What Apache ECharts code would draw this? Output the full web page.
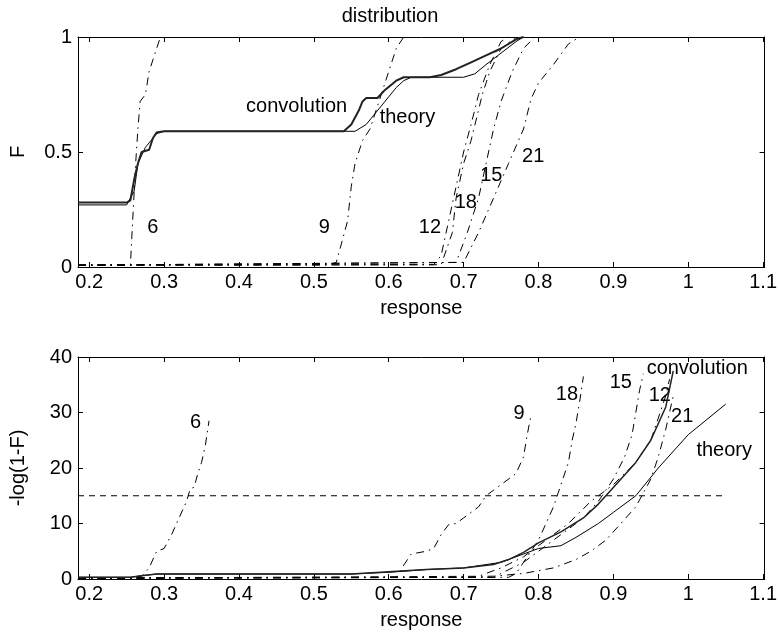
<!DOCTYPE html>
<html>
<head>
<meta charset="utf-8">
<script src="https://cdn.jsdelivr.net/npm/echarts@6/dist/echarts.min.js"></script>
<style>
  html, body { margin: 0; padding: 0; background: #fff; }
  #main { width: 780px; height: 639px; }
</style>
</head>
<body>
<div id="main"></div>
<script>
// tick labels shared by both panels
var xTicks = [0.2, 0.3, 0.4, 0.5, 0.6, 0.7, 0.8, 0.9, 1, 1.1];
var topYTicks = [0, 0.5, 1];
var botYTicks = [0, 10, 20, 30, 40];

// upper panel: F against response
var topConv = [[0.185,0.28],[0.25,0.28],[0.255,0.29],[0.26,0.38],[0.265,0.45],[0.27,0.5],[0.28,0.51],[0.285,0.56],[0.29,0.585],[0.3,0.59],[0.54,0.59],[0.55,0.62],[0.56,0.68],[0.565,0.72],[0.57,0.735],[0.585,0.735],[0.595,0.77],[0.61,0.81],[0.62,0.825],[0.655,0.825],[0.67,0.835],[0.69,0.86],[0.71,0.89],[0.73,0.92],[0.75,0.95],[0.77,0.99],[0.78,1.0]];
var topTheory = [[0.185,0.27],[0.25,0.27],[0.26,0.33],[0.265,0.45],[0.275,0.52],[0.29,0.58],[0.3,0.59],[0.555,0.59],[0.57,0.62],[0.58,0.66],[0.59,0.7],[0.6,0.74],[0.61,0.78],[0.62,0.81],[0.63,0.825],[0.7,0.825],[0.715,0.84],[0.73,0.88],[0.75,0.93],[0.77,0.98],[0.78,1.0]];
var top6 = [[0.185,0.008],[0.255,0.01],[0.258,0.2],[0.262,0.45],[0.265,0.6],[0.268,0.72],[0.275,0.75],[0.28,0.85],[0.29,0.95],[0.295,1.0]];
var top9 = [[0.185,0.008],[0.52,0.01],[0.53,0.02],[0.545,0.2],[0.55,0.35],[0.555,0.45],[0.565,0.55],[0.575,0.6],[0.585,0.7],[0.6,0.85],[0.61,0.95],[0.62,1.0]];
var top12 = [[0.185,0.008],[0.66,0.01],[0.67,0.05],[0.68,0.2],[0.69,0.35],[0.7,0.5],[0.71,0.62],[0.72,0.75],[0.735,0.88],[0.75,0.98],[0.76,1.0]];
var top18 = [[0.185,0.008],[0.67,0.01],[0.685,0.15],[0.69,0.3],[0.7,0.45],[0.71,0.55],[0.725,0.75],[0.735,0.85],[0.75,0.95],[0.77,1.0]];
var top15 = [[0.185,0.008],[0.69,0.02],[0.705,0.15],[0.72,0.3],[0.73,0.45],[0.74,0.6],[0.75,0.72],[0.765,0.85],[0.78,0.95],[0.795,1.0]];
var top21 = [[0.185,0.008],[0.7,0.02],[0.72,0.15],[0.74,0.3],[0.76,0.45],[0.78,0.6],[0.79,0.73],[0.8,0.8],[0.82,0.88],[0.84,0.97],[0.85,0.99]];
var topNotes = [['convolution',0.477,0.70],['theory',0.625,0.65],['6',0.285,0.17],['9',0.514,0.17],['12',0.655,0.17],['18',0.703,0.28],['15',0.737,0.40],['21',0.793,0.48]];

// lower panel: -log(1-F) against response
var botLevel = [[0.185,15],[1.05,15]];
var botConv = [[0.185,0.3],[0.255,0.3],[0.27,0.6],[0.29,0.9],[0.55,0.9],[0.6,1.3],[0.65,1.7],[0.7,2.0],[0.74,2.6],[0.76,3.5],[0.78,4.8],[0.8,6.5],[0.83,8.5],[0.86,11],[0.88,13.5],[0.9,16.5],[0.93,21],[0.95,25],[0.97,31],[0.98,37.5]];
var botTheory = [[0.185,0.3],[0.255,0.3],[0.27,0.6],[0.29,0.9],[0.55,0.9],[0.6,1.2],[0.65,1.7],[0.7,2.0],[0.75,3.0],[0.78,4.5],[0.8,5.5],[0.83,6.0],[0.85,7.5],[0.88,10],[0.9,12],[0.93,15],[0.96,20],[1.0,26],[1.05,31.5]];
var bot6 = [[0.185,0.15],[0.255,0.15],[0.27,0.5],[0.28,2],[0.29,5],[0.3,5.5],[0.31,8],[0.32,11],[0.33,14],[0.335,16.3],[0.34,16.5],[0.345,19],[0.35,21],[0.355,24],[0.36,28.5]];
var bot9 = [[0.185,0.15],[0.61,0.3],[0.62,2.5],[0.63,4.5],[0.65,5],[0.66,5.5],[0.67,8],[0.68,9.8],[0.69,10],[0.7,11],[0.72,13],[0.73,15],[0.74,16],[0.75,17],[0.77,19],[0.78,22],[0.785,26],[0.79,29.5]];
var bot18 = [[0.185,0.15],[0.76,0.3],[0.77,1],[0.78,3],[0.79,5],[0.8,7],[0.81,10],[0.82,13],[0.83,17],[0.84,21],[0.845,25],[0.85,28],[0.855,32],[0.86,36.5]];
var bot15 = [[0.185,0.15],[0.74,0.3],[0.75,1],[0.78,3],[0.81,6],[0.84,9],[0.86,11],[0.88,14],[0.9,18],[0.915,22],[0.925,26],[0.93,30],[0.935,34],[0.94,37]];
var bot12 = [[0.185,0.15],[0.71,0.3],[0.72,0.5],[0.75,2],[0.78,4],[0.81,7],[0.84,10],[0.87,14],[0.9,17],[0.93,21],[0.95,25],[0.96,29],[0.97,33],[0.975,36]];
var bot21 = [[0.185,0.15],[0.74,0.5],[0.78,1],[0.82,2],[0.85,3.5],[0.87,5],[0.89,7],[0.91,10],[0.93,13],[0.95,18],[0.96,22],[0.97,27],[0.975,30],[0.98,33]];
var botNotes = [['6',0.342,28.2],['9',0.774,29.9],['18',0.838,33.3],['15',0.91,35.4],['12',0.962,33],['21',0.992,29.3],['convolution',1.012,38],['theory',1.048,23.2]];

var FONT = 'Liberation Sans, Arial, sans-serif';
var FS = 20;
var dashDot = [8, 5, 1.5, 5];

function xAx(gi, pos, show) {
    return {
        type: 'value', gridIndex: gi, position: pos, min: 0.185, max: 1.102,
        name: show ? 'response' : '', nameLocation: 'middle', nameGap: 31,
        nameTextStyle: { color: '#000', fontFamily: FONT, fontSize: FS },
        axisLine: { show: true, onZero: false, lineStyle: { color: '#000', width: 1 } },
        axisTick: { show: true, inside: true, length: 5, customValues: xTicks, lineStyle: { color: '#000' } },
        axisLabel: { show: show, customValues: xTicks, color: '#000', fontFamily: FONT, fontSize: FS, margin: 5 },
        splitLine: { show: false }
    };
}
function yAx(gi, pos, show, ticks, max, name) {
    return {
        type: 'value', gridIndex: gi, position: pos, min: 0, max: max,
        name: show ? name : '', nameLocation: 'middle', nameGap: 50, nameRotate: 90,
        nameTextStyle: { color: '#000', fontFamily: FONT, fontSize: FS },
        axisLine: { show: true, onZero: false, lineStyle: { color: '#000', width: 1 } },
        axisTick: { show: true, inside: true, length: 5, customValues: ticks, lineStyle: { color: '#000' } },
        axisLabel: { show: show, customValues: ticks, color: '#000', fontFamily: FONT, fontSize: FS, margin: 6 },
        splitLine: { show: false }
    };
}
function curve(data, xi, type, width, color) {
    return {
        type: 'line', xAxisIndex: xi, yAxisIndex: xi, data: data, showSymbol: false,
        lineStyle: { color: color || '#000', width: width, type: type }, silent: true
    };
}
function notes(list, xi) {
    return {
        type: 'scatter', xAxisIndex: xi, yAxisIndex: xi, symbolSize: 0, silent: true,
        data: list.map(function (n) { return { name: n[0], value: [n[1], n[2]] }; }),
        label: { show: true, position: 'inside', formatter: '{b}', color: '#000', opacity: 1,
                 textBorderWidth: 0, fontFamily: FONT, fontSize: FS }
    };
}

var chart = echarts.init(document.getElementById('main'), null, { renderer: 'canvas' });
chart.setOption({
    animation: false,
    backgroundColor: '#fff',
    title: {
        text: 'distribution', left: 'center', top: 1,
        textStyle: { color: '#000', fontFamily: FONT, fontSize: FS, fontWeight: 'normal' }
    },
    grid: [
        { left: 74, right: 12, top: 37, height: 230 },
        { left: 74, right: 12, top: 357, height: 222 }
    ],
    xAxis: [xAx(0, 'bottom', true), xAx(1, 'bottom', true), xAx(0, 'top', false), xAx(1, 'top', false)],
    yAxis: [yAx(0, 'left', true, topYTicks, 1, 'F'), yAx(1, 'left', true, botYTicks, 40, '-log(1-F)'),
            yAx(0, 'right', false, topYTicks, 1, ''), yAx(1, 'right', false, botYTicks, 40, '')],
    series: [
        curve(top6, 0, dashDot, 1), curve(top9, 0, dashDot, 1), curve(top12, 0, dashDot, 1),
        curve(top18, 0, dashDot, 1), curve(top15, 0, dashDot, 1), curve(top21, 0, dashDot, 1),
        curve(topTheory, 0, 'solid', 1), curve(topConv, 0, 'solid', 2, '#222'),
        notes(topNotes, 0),
        curve(botLevel, 1, [6, 5], 1),
        curve(bot6, 1, dashDot, 1), curve(bot9, 1, dashDot, 1), curve(bot18, 1, dashDot, 1),
        curve(bot15, 1, dashDot, 1), curve(bot12, 1, dashDot, 1), curve(bot21, 1, dashDot, 1),
        curve(botTheory, 1, 'solid', 1), curve(botConv, 1, 'solid', 1.5, '#222'),
        notes(botNotes, 1)
    ]
});
</script>
</body>
</html>
